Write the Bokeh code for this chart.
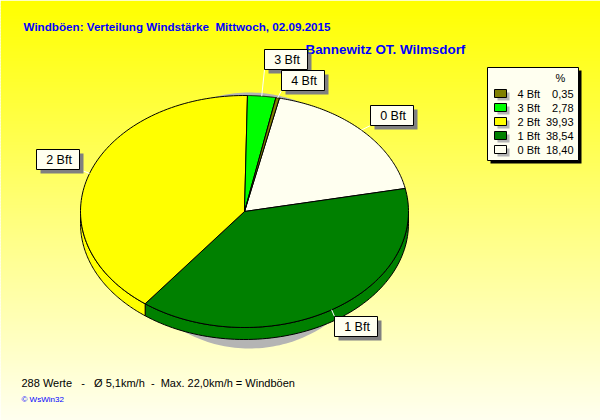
import numpy as np
from bokeh.plotting import figure
from bokeh.models import Range1d
from bokeh.core.properties import value
from bokeh.embed import file_html
from bokeh.resources import INLINE

# Data
categories = ["0 Bft", "1 Bft", "2 Bft", "3 Bft", "4 Bft"]
percent = [18.40, 38.54, 39.93, 2.78, 0.35]
colors = ["#FFFFF0", "#008000", "#FFFF00", "#00FF00", "#808000"]
legend_order = ["4 Bft", "3 Bft", "2 Bft", "1 Bft", "0 Bft"]
title = "Windböen: Verteilung Windstärke\u00a0\u00a0Mittwoch, 02.09.2015"
subtitle = "Bannewitz OT. Wilmsdorf"
footer = "288 Werte\u00a0\u00a0\u00a0-\u00a0\u00a0\u00a0Ø 5,1km/h\u00a0\u00a0-\u00a0\u00a0Max. 22,0km/h = Windböen"
credit = "© WsWin32"

# Layout
W, H = 600, 420
CX, CY, RX, RY, DEPTH = 244, 211, 164, 116, 12
START = 77.7
BLUE = "#0000FF"
GRAY = "#B4B4B4"
PAPER = "#FFFFF0"
FONT = "Liberation Sans"
label_boxes = {"3 Bft": (264, 49), "4 Bft": (281, 70), "0 Bft": (370, 105),
               "1 Bft": (334, 316), "2 Bft": (36, 149)}
LW, LH = 43, 20

p = figure(width=W, height=H, x_range=Range1d(0, W), y_range=Range1d(H, 0),
           output_backend="svg", toolbar_location=None, min_border=0,
           outline_line_color=None)
p.axis.visible = False
p.grid.visible = False


def ell(t_deg, dy=0):
    t = np.radians(np.asarray(t_deg, dtype=float))
    return CX + RX * np.cos(t), CY + dy - RY * np.sin(t)


def text(x, y, s, size, color="#000000", style="normal", align="left"):
    p.text([x], [y], text=[s], text_font=value(FONT), text_font_size=size,
           text_color=color, text_font_style=style, text_align=align,
           text_baseline="middle")


# Background gradient, yellow at the top to paper at the bottom
band = 3
tops = np.arange(0, H, band)
blues = (tops + band / 2) / H * 240
p.quad(left=0, right=W, top=tops, bottom=tops + band + 1, line_color=None,
       fill_color=["#FFFF%02X" % int(b) for b in blues])

# Titles
text(23, 26, title, "11.65px", BLUE, "bold")
text(305, 49, subtitle, "13.4px", BLUE, "bold")

# Pie shadow
ts = np.linspace(0, 2 * np.pi, 240)
p.patch(249 + 132 * np.cos(ts), 220 + 128 * np.sin(ts), fill_color=GRAY, line_color=None)

# Slices
edges = START - np.cumsum([0] + [v * 3.6 for v in percent])
for i in range(len(percent)):
    a0, a1 = edges[i], edges[i + 1]
    lo, hi = max(a1, -180.0), min(a0, 0.0)
    if hi > lo:
        t = np.linspace(hi, lo, 80)
        x, y = ell(t)
        xb, yb = ell(t, DEPTH)
        p.patch(np.r_[x, xb[::-1]], np.r_[y, yb[::-1]], fill_color=colors[i],
                line_color="#000000", line_width=1)
for i in range(len(percent)):
    t = np.linspace(edges[i], edges[i + 1], 90)
    x, y = ell(t)
    p.patch(np.r_[CX, x], np.r_[CY, y], fill_color=colors[i],
            line_color="#000000", line_width=1)

# Labels with leader lines
mids = (edges[:-1] + edges[1:]) / 2
for cat, m in zip(categories, mids):
    bx, by = label_boxes[cat]
    ax, ay = ell(m)
    tx = min(max(ax, bx), bx + LW)
    ty = by + LH if ay > by + LH else (by if ay < by else by + LH / 2)
    p.line([tx, ax], [ty, ay], line_color="#FFFFFF", line_width=1)
for cat in categories:
    bx, by = label_boxes[cat]
    p.quad(left=bx + 4, right=bx + LW + 4, top=by + 4, bottom=by + LH + 4,
           fill_color="#808080", line_color=None)
    p.quad(left=bx, right=bx + LW, top=by, bottom=by + LH,
           fill_color=PAPER, line_color="#000000", line_width=1)
    text(bx + LW / 2 + 1, by + LH / 2 + 0.5, cat, "12.5px", align="center")

# Legend
p.quad(left=490, right=581, top=70, bottom=163, fill_color="#000000", line_color=None)
p.quad(left=487, right=578, top=67, bottom=160, fill_color=PAPER, line_color="#000000", line_width=1)
text(560, 77, "%", "11px", align="center")
for row, cat in enumerate(legend_order):
    i = categories.index(cat)
    yc = 93 + row * 14
    p.quad(left=497, right=509, top=yc - 1, bottom=yc + 7, fill_color=GRAY, line_color=None)
    p.quad(left=494, right=506, top=yc - 4, bottom=yc + 4, fill_color=colors[i],
           line_color="#000000", line_width=1)
    text(517, yc, cat, "11px")
    text(573, yc, f"{percent[i]:.2f}".replace(".", ","), "11px", align="right")

# Footer
text(21, 382, footer, "11px")
text(21, 399, credit, "8px", BLUE)

open("out.html", "w").write(file_html(p, INLINE))
